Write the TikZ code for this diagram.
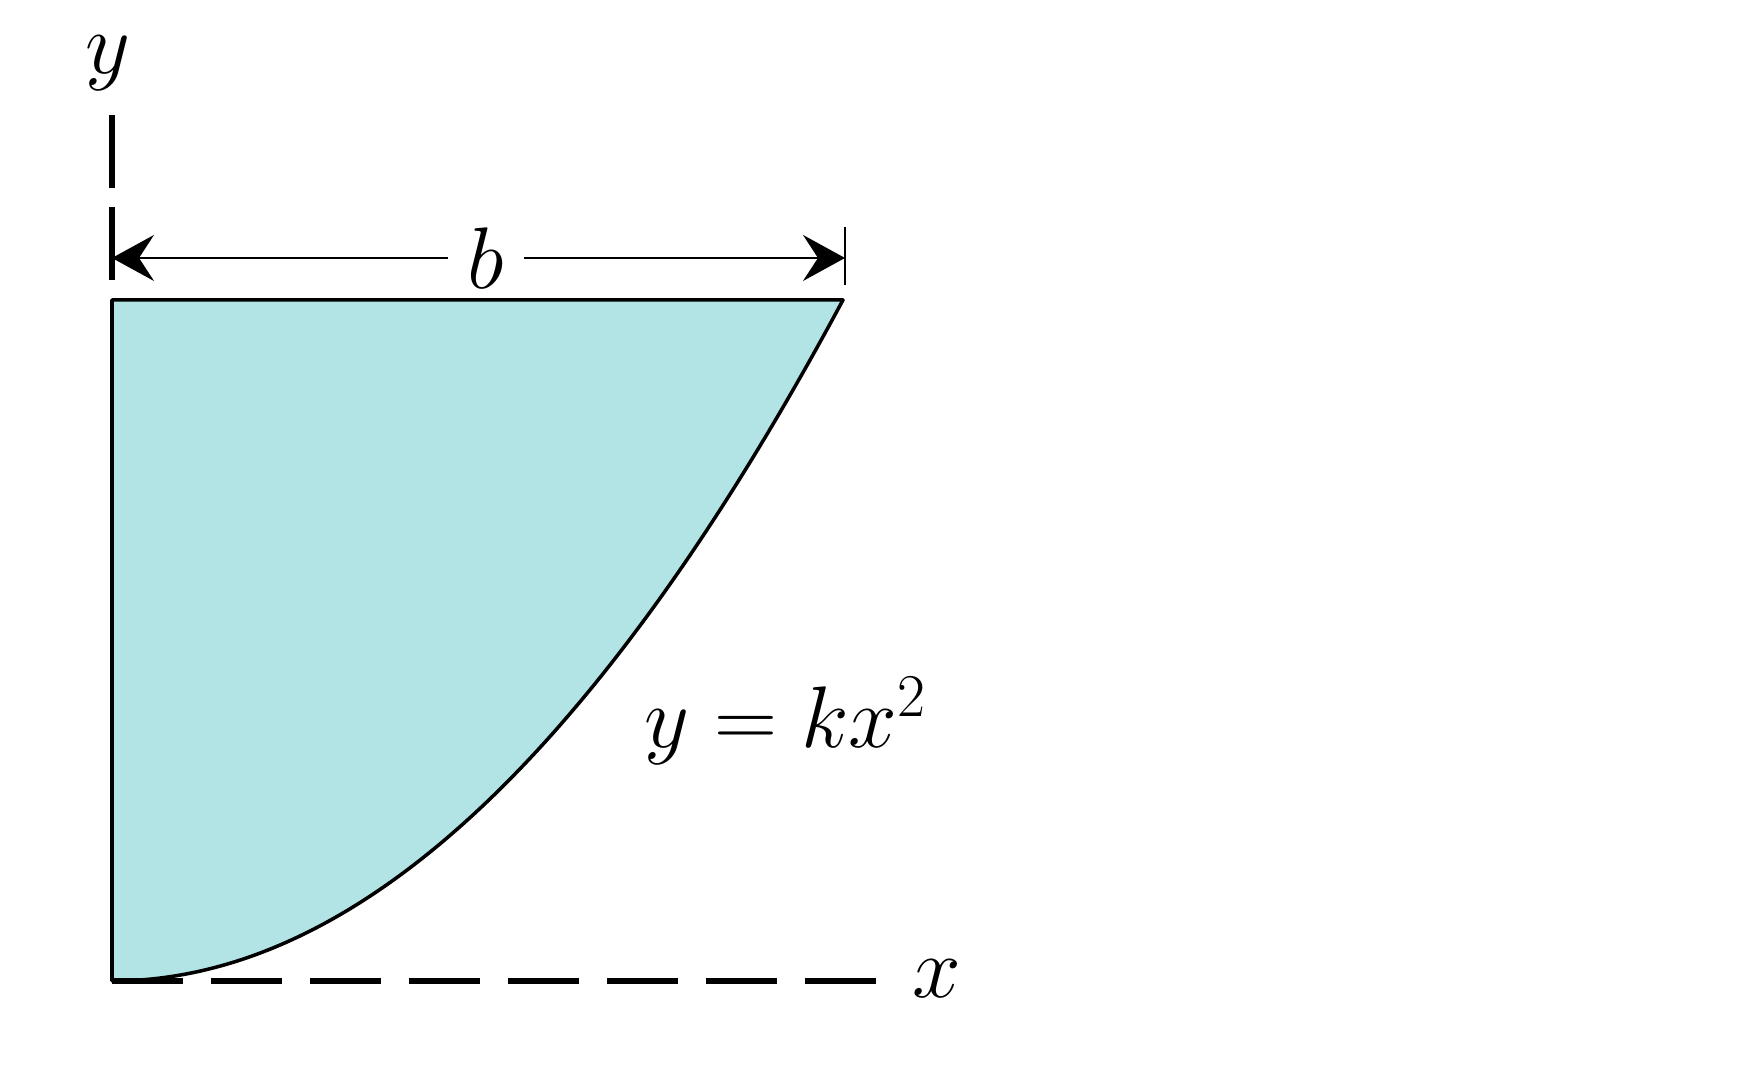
\documentclass[tikz,border=0pt]{standalone}
\usetikzlibrary{arrows.meta}
\definecolor{areacyan}{RGB}{179,228,229}
\tikzset{
  axisline/.style={line width=1.7pt, dash pattern=on 0.71cm off 0.28cm},
  yaxisline/.style={line width=1.7pt, dash pattern=on 0.73cm off 0.19cm},
  dimline/.style={line width=0.6pt,
    {Stealth[length=0.42cm,width=0.46cm,inset=0.15cm]}-{Stealth[length=0.42cm,width=0.46cm,inset=0.15cm]}},
  lbl/.style={font=\fontsize{25.5}{30}\selectfont, inner sep=0pt}
}
\begin{document}
\begin{tikzpicture}
		\useasboundingbox (-1.12,-1.00) rectangle (16.46,9.81);
		\coordinate (O) at (0,0);
		\coordinate (T) at (0,6.81);
		\coordinate (C) at (7.31,6.81);
		
		% area under the parabola
		\filldraw[fill=areacyan, line width=1pt, line join=round] (O) -- (T) -- (C)
			-- plot[domain=7.31:0, samples=60, smooth] (\x,{6.81*(\x/7.31)^2}) -- cycle;
		
		% axes
		\draw [axisline] (O) -- (7.64,0) coordinate (xend);
		\node [lbl] (xlab) at (8.25,0.02) {$x$};
		\draw [yaxisline] (0,7.01) coordinate (ybot) -- (0,8.66) coordinate (ytop);
		\node [lbl] (ylab) at (-0.04,9.18) {$y$};
		
		% dimension b
		\coordinate (dl) at (0,7.23);
		\coordinate (dr) at (7.33,7.23);
		\draw [line width=0.6pt] (7.33,6.96) -- (7.33,7.54);
		\draw [dimline] (dl) -- node [lbl, pos=0.51, fill=white, inner xsep=0.2cm] (blab) {$b$} (dr);
		
		\node [lbl] (curve) at (6.74,2.6) {$y = kx^2$};
		
		\end{tikzpicture}
\end{document}
